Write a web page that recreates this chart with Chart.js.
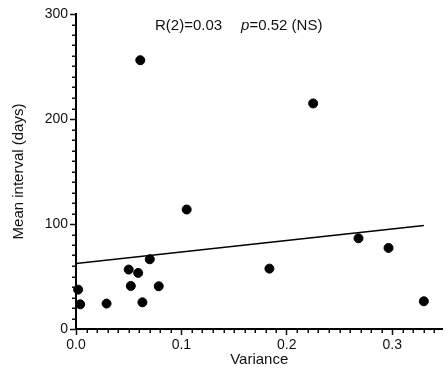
<!DOCTYPE html>
<html>
<head>
<meta charset="utf-8">
<script src="https://cdn.jsdelivr.net/npm/chart.js@4.4.1/dist/chart.umd.min.js"></script>
<style>
  html, body { margin: 0; padding: 0; background: #fff; }
  #wrap { width: 448px; height: 375px; position: relative; }
</style>
</head>
<body>
<div id="wrap"><canvas id="scatter-chart"></canvas></div>
<script>
// Variance vs mean interval
const variance = [0.002, 0.004, 0.029, 0.050, 0.052, 0.059, 0.063, 0.070, 0.0785, 0.061, 0.105, 0.1835, 0.225, 0.268, 0.2965, 0.330];
const meanInterval = [37.5, 23.5, 24.2, 56.6, 41, 53.4, 25.4, 66.4, 40.7, 256, 113.8, 57.5, 214.8, 86.4, 77.2, 26.4];

// linear fit shown on the plot
const fitX = [0, 0.33];
const fitY = [62.3, 98.5];

const xTicks = [0, 0.1, 0.2, 0.3];
const yTicks = [0, 100, 200, 300];
const annotation = ['R(2)=0.03', 'p', '=0.52 (NS)'];

const FONT = '"Liberation Sans", Arial, Helvetica, sans-serif';
const INK = '#111';

// minor ticks + the R/p annotation
const extrasPlugin = {
  id: 'extras',
  afterDraw(chart) {
    const { ctx, scales: { x, y }, chartArea } = chart;
    ctx.save();
    ctx.strokeStyle = INK;
    ctx.lineWidth = 1.5;
    ctx.beginPath();
    for (let v = 10; v < 300; v += 10) {
      if (v % 100 === 0) continue;
      const py = Math.round(y.getPixelForValue(v)) + 0.25;
      ctx.moveTo(chartArea.left - 4, py);
      ctx.lineTo(chartArea.left, py);
    }
    for (let i = 1; i <= 34; i++) {
      if (i % 10 === 0) continue;
      const px = Math.round(x.getPixelForValue(i / 100)) + 0.25;
      ctx.moveTo(px, chartArea.bottom);
      ctx.lineTo(px, chartArea.bottom + 4);
    }
    ctx.stroke();

    ctx.fillStyle = INK;
    ctx.textBaseline = 'alphabetic';
    ctx.textAlign = 'left';
    let tx = 155;
    const ty = 30;
    ctx.font = '15px ' + FONT;
    ctx.fillText(annotation[0], tx, ty);
    tx += ctx.measureText(annotation[0]).width + 19;
    ctx.font = 'italic 15px ' + FONT;
    ctx.fillText(annotation[1], tx, ty);
    tx += ctx.measureText(annotation[1]).width;
    ctx.font = '15px ' + FONT;
    ctx.fillText(annotation[2], tx, ty);
    ctx.restore();
  }
};

new Chart(document.getElementById('scatter-chart'), {
  type: 'scatter',
  data: {
    datasets: [
      {
        label: 'points',
        data: variance.map((v, i) => ({ x: v, y: meanInterval[i] })),
        backgroundColor: '#000',
        borderColor: '#000',
        pointRadius: 4.5,
        pointHoverRadius: 4.5,
        clip: false
      },
      {
        label: 'fit',
        type: 'line',
        data: fitX.map((v, i) => ({ x: v, y: fitY[i] })),
        borderColor: '#000',
        borderWidth: 1.5,
        pointRadius: 0,
        fill: false
      }
    ]
  },
  options: {
    responsive: true,
    maintainAspectRatio: false,
    animation: false,
    layout: { padding: { left: 0, right: 0, top: 14, bottom: 0 } },
    plugins: { legend: { display: false }, tooltip: { enabled: false } },
    scales: {
      x: {
        type: 'linear',
        min: 0,
        max: 0.3477,
        afterBuildTicks: s => { s.ticks = xTicks.map(v => ({ value: v })); },
        afterFit: s => { s.height = 46; },
        border: { color: '#000', width: 2 },
        grid: { drawOnChartArea: false, drawTicks: true, tickLength: 6, tickColor: INK, tickWidth: 1.5 },
        ticks: { color: INK, font: { family: FONT, size: 14 }, padding: 2, maxRotation: 0, callback: v => v.toFixed(1) },
        title: { display: true, text: 'Variance', color: INK, font: { family: FONT, size: 15 }, padding: { top: 0, bottom: 6 } }
      },
      y: {
        type: 'linear',
        min: 0,
        max: 300,
        afterBuildTicks: s => { s.ticks = yTicks.map(v => ({ value: v })); },
        afterFit: s => { s.width = 76; },
        border: { color: '#000', width: 2 },
        grid: { drawOnChartArea: false, drawTicks: true, tickLength: 6, tickColor: INK, tickWidth: 1.5 },
        ticks: { color: INK, font: { family: FONT, size: 14 }, padding: 2 },
        title: { display: true, text: 'Mean interval (days)', color: INK, font: { family: FONT, size: 15 }, padding: { top: 10, bottom: 0 } }
      }
    }
  },
  plugins: [extrasPlugin]
});
</script>
</body>
</html>
